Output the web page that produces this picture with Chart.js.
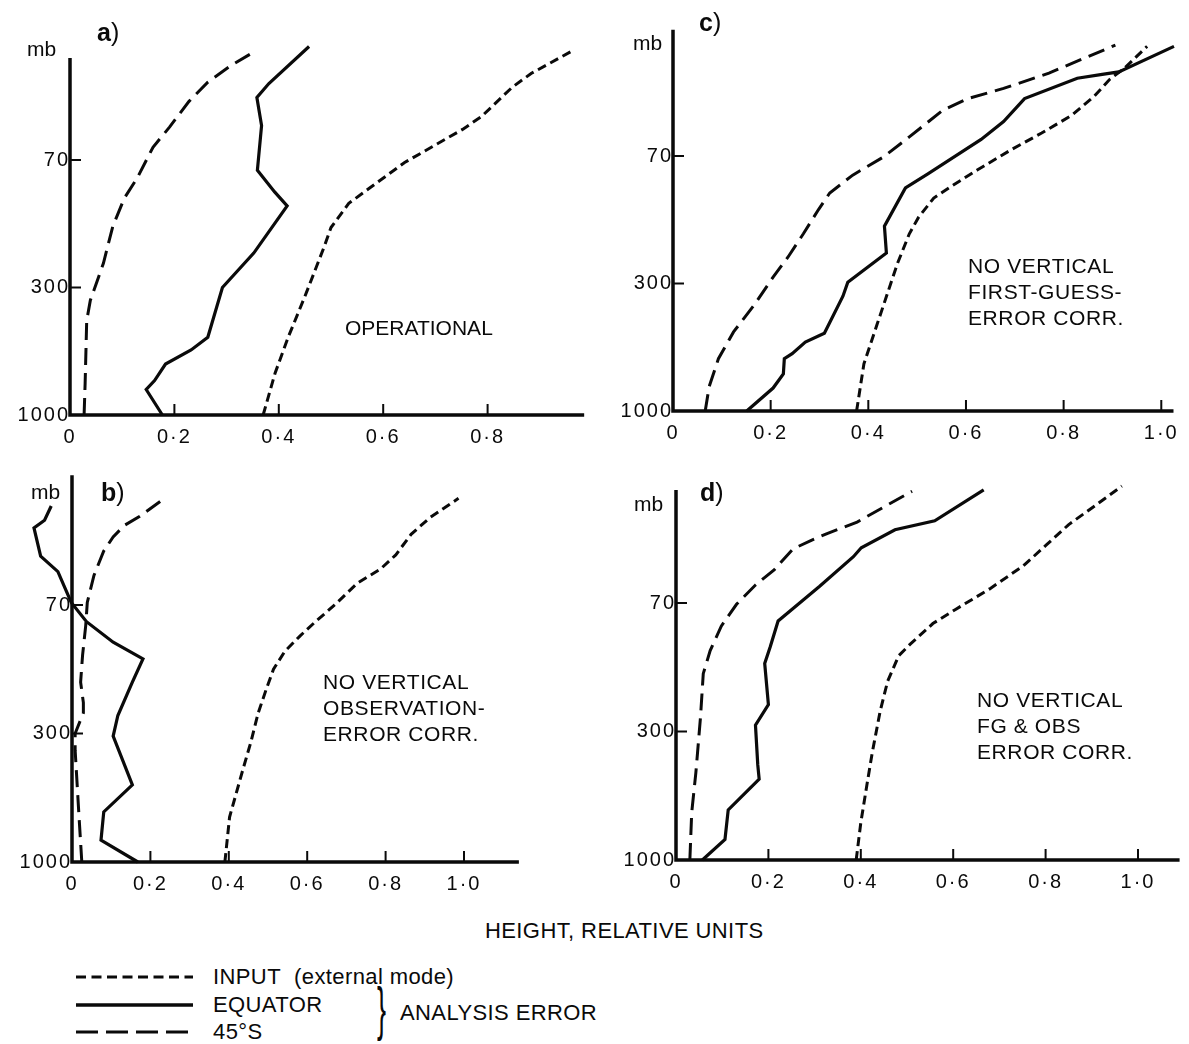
<!DOCTYPE html>
<html lang="en">
<head>
<meta charset="UTF-8">
<title>Analysis error profiles</title>
<script src="https://cdn.jsdelivr.net/npm/chart.js"></script>
<style>
  body { margin: 0; background: #fff; }
  #page { position: relative; width: 1189px; height: 1044px; background: #fff;
          font-family: "Liberation Sans", Arial, sans-serif; color: #0a0a0a; overflow: hidden; }
  canvas { position: absolute; }
  .t { position: absolute; white-space: nowrap; line-height: 1; font-size: 21px; }
  .note { letter-spacing: 0.6px; }
  .leg { font-size: 22px; letter-spacing: 0.4px; }
  .tag { font-size: 25px; }
  .tag b { font-weight: bold; }
</style>
</head>
<body>
<div id="page">
  <canvas id="pa" width="595" height="450" style="left:0;top:0"></canvas>
  <canvas id="pc" width="589" height="450" style="left:600px;top:0"></canvas>
  <canvas id="pb" width="595" height="455" style="left:0;top:440px"></canvas>
  <canvas id="pd" width="589" height="455" style="left:600px;top:440px"></canvas>

  <div class="t" style="left:27px;top:38px">mb</div>
  <div class="t tag" style="left:97px;top:20px"><b>a</b>)</div>
  <div class="t" style="left:31px;top:481px">mb</div>
  <div class="t tag" style="left:101px;top:480px"><b>b</b>)</div>
  <div class="t" style="left:633px;top:32px">mb</div>
  <div class="t tag" style="left:699px;top:10px"><b>c</b>)</div>
  <div class="t" style="left:634px;top:493px">mb</div>
  <div class="t tag" style="left:700px;top:480px"><b>d</b>)</div>

  <div class="t" style="left:345px;top:317px">OPERATIONAL</div>

  <div class="t note" style="left:323px;top:671px">NO VERTICAL</div>
  <div class="t note" style="left:323px;top:697px">OBSERVATION-</div>
  <div class="t note" style="left:323px;top:723px">ERROR CORR.</div>

  <div class="t note" style="left:968px;top:255px">NO VERTICAL</div>
  <div class="t note" style="left:968px;top:281px">FIRST-GUESS-</div>
  <div class="t note" style="left:968px;top:307px">ERROR CORR.</div>

  <div class="t note" style="left:977px;top:689px">NO VERTICAL</div>
  <div class="t note" style="left:977px;top:715px">FG &amp; OBS</div>
  <div class="t note" style="left:977px;top:741px">ERROR CORR.</div>

  <div class="t leg" style="left:485px;top:920px">HEIGHT, RELATIVE UNITS</div>

  <svg style="position:absolute;left:70px;top:960px" width="130" height="84">
    <line x1="6" y1="17" x2="123" y2="17" stroke="#0a0a0a" stroke-width="3" stroke-dasharray="10 5.5"/>
    <line x1="6" y1="45" x2="123" y2="45" stroke="#0a0a0a" stroke-width="3.5"/>
    <line x1="6" y1="72" x2="123" y2="72" stroke="#0a0a0a" stroke-width="3" stroke-dasharray="22 8"/>
  </svg>
  <div class="t leg" style="left:213px;top:966px">INPUT&nbsp; (external mode)</div>
  <div class="t leg" style="left:213px;top:994px">EQUATOR</div>
  <div class="t leg" style="left:213px;top:1021px">45°S</div>
  <div class="t" style="left:377px;top:979px;font-size:60px;transform:scaleX(0.45);transform-origin:left top">}</div>
  <div class="t leg" style="left:400px;top:1002px">ANALYSIS ERROR</div>
</div>

<script>
// vertical coordinate: 0 = 1000 mb, 1 = 300 mb, 2 = 70 mb (equally spaced on the figure)
const levelTicks = [0, 1, 2];
const levelLabels = ['1000', '300', '70'];
const xTicksA = [0, 0.2, 0.4, 0.6, 0.8];
const xTicksB = [0, 0.2, 0.4, 0.6, 0.8, 1.0];

// [x, level] pairs
// a) operational
const inputA = [[0.37,0],[0.393,0.33],[0.418,0.61],[0.45,0.93],[0.487,1.32],[0.50,1.47],[0.534,1.66],[0.574,1.78],[0.641,1.98],[0.752,2.24],[0.788,2.34],[0.847,2.57],[0.884,2.68],[0.964,2.86]];
const equatorA = [[0.177,0],[0.146,0.20],[0.162,0.27],[0.183,0.40],[0.232,0.51],[0.264,0.61],[0.292,1.0],[0.352,1.27],[0.416,1.64],[0.392,1.75],[0.359,1.92],[0.367,2.27],[0.358,2.49],[0.381,2.60],[0.458,2.89]];
const southA = [[0.027,0],[0.029,0.25],[0.032,0.74],[0.039,0.90],[0.064,1.19],[0.082,1.48],[0.104,1.70],[0.129,1.86],[0.159,2.10],[0.191,2.26],[0.228,2.46],[0.264,2.61],[0.308,2.74],[0.345,2.83]];

// b) no vertical observation-error correlation
const inputB = [[0.39,0],[0.402,0.35],[0.436,0.72],[0.456,0.93],[0.475,1.16],[0.495,1.34],[0.514,1.50],[0.543,1.64],[0.582,1.76],[0.621,1.87],[0.67,2.0],[0.728,2.17],[0.787,2.28],[0.826,2.39],[0.865,2.55],[0.913,2.68],[0.986,2.83]];
const equatorB = [[0.168,0],[0.074,0.17],[0.081,0.39],[0.154,0.60],[0.105,0.98],[0.117,1.14],[0.154,1.40],[0.181,1.58],[0.105,1.71],[0.037,1.87],[-0.002,2.02],[-0.036,2.26],[-0.08,2.38],[-0.097,2.60],[-0.07,2.66],[-0.053,2.77]];
const southB = [[0.025,0],[0.018,0.35],[0.008,0.87],[0.008,1.0],[0.029,1.16],[0.029,1.24],[0.022,1.40],[0.027,1.61],[0.035,1.84],[0.039,2.02],[0.056,2.23],[0.081,2.42],[0.105,2.53],[0.134,2.62],[0.173,2.69],[0.227,2.81]];

// c) no vertical first-guess-error correlation
const inputC = [[0.376,0],[0.391,0.37],[0.418,0.68],[0.46,1.16],[0.484,1.39],[0.503,1.52],[0.534,1.67],[0.569,1.76],[0.623,1.89],[0.693,2.05],[0.755,2.18],[0.817,2.32],[0.863,2.47],[0.894,2.60],[0.925,2.69],[0.971,2.86]];
const equatorC = [[0.151,0],[0.205,0.18],[0.226,0.29],[0.228,0.41],[0.244,0.45],[0.271,0.54],[0.31,0.61],[0.348,0.90],[0.358,1.01],[0.437,1.24],[0.433,1.45],[0.476,1.75],[0.522,1.86],[0.631,2.13],[0.677,2.27],[0.72,2.45],[0.828,2.61],[0.879,2.64],[0.913,2.66],[1.026,2.86]];
const southC = [[0.066,0],[0.074,0.19],[0.093,0.41],[0.124,0.62],[0.166,0.83],[0.205,1.05],[0.236,1.21],[0.267,1.39],[0.298,1.58],[0.321,1.71],[0.368,1.85],[0.43,1.99],[0.484,2.15],[0.553,2.36],[0.604,2.45],[0.677,2.53],[0.77,2.65],[0.906,2.87]];

// d) no vertical FG & OBS error correlation
const inputD = [[0.39,0],[0.40,0.29],[0.413,0.58],[0.425,0.84],[0.442,1.16],[0.458,1.39],[0.482,1.59],[0.507,1.68],[0.556,1.84],[0.605,1.95],[0.679,2.11],[0.752,2.29],[0.801,2.45],[0.85,2.61],[0.908,2.76],[0.965,2.91]];
const equatorD = [[0.057,0],[0.106,0.16],[0.113,0.39],[0.18,0.63],[0.177,0.74],[0.172,1.05],[0.20,1.21],[0.192,1.53],[0.204,1.66],[0.221,1.86],[0.311,2.13],[0.384,2.36],[0.401,2.43],[0.474,2.57],[0.56,2.64],[0.666,2.88]];
const southD = [[0.03,0],[0.034,0.37],[0.043,0.68],[0.053,1.11],[0.059,1.45],[0.074,1.63],[0.098,1.82],[0.131,1.99],[0.172,2.14],[0.213,2.26],[0.253,2.42],[0.294,2.49],[0.327,2.54],[0.392,2.63],[0.511,2.87]];

const INK = '#0a0a0a';
const FONT = '"Liberation Sans", Arial, sans-serif';

// axis lines and inward tick marks, like the hand-drawn figure
const handAxes = {
    id: 'handAxes',
    beforeUpdate(chart) {
        // the printed tick labels are loosely spaced
        chart.ctx.letterSpacing = '2px';
    },
    afterDatasetsDraw(chart, args, o) {
        const {ctx} = chart;
        const x = chart.scales.x, y = chart.scales.y;
        const x0 = x.getPixelForValue(0), y0 = y.getPixelForValue(0);
        ctx.save();
        ctx.strokeStyle = INK;
        ctx.lineWidth = 3.5;
        ctx.beginPath();
        ctx.moveTo(x0, y.getPixelForValue(o.yTop));
        ctx.lineTo(x0, y0);
        ctx.lineTo(x.getPixelForValue(o.xEnd), y0);
        ctx.stroke();
        ctx.lineWidth = 2;
        ctx.beginPath();
        x.ticks.forEach(t => {
            if (t.value <= 0) return;
            const px = x.getPixelForValue(t.value);
            ctx.moveTo(px, y0);
            ctx.lineTo(px, y0 - 11);
        });
        y.ticks.forEach(t => {
            if (t.value <= 0) return;
            const py = y.getPixelForValue(t.value);
            ctx.moveTo(x0, py);
            ctx.lineTo(x0 + 11, py);
        });
        ctx.stroke();
        ctx.restore();
    }
};

function pts(arr) {
    return arr.map(p => ({x: p[0], y: p[1]}));
}

function fmtX(v) {
    return v === 0 ? '0' : v.toFixed(1).replace('.', '\u00b7');
}

// g: page geometry of the panel (pixel of x=0, px per unit, pixel of 1000 mb, px per level)
function panel(id, box, g, xTicks, input, equator, south) {
    const chartLeft = g.x0 + g.xMin * g.xUnit;
    const chartRight = g.x0 + g.xMax * g.xUnit;
    const chartTop = g.y0 - g.yMax * g.yUnit;
    const line = (data, w, dash) => ({
        data: pts(data), showLine: true, pointRadius: 0, borderColor: INK,
        borderWidth: w, borderDash: dash, clip: false, tension: 0
    });
    new Chart(document.getElementById(id), {
        type: 'scatter',
        data: {
            datasets: [
                line(input, 3, [9, 5]),
                line(equator, 3.2, []),
                line(south, 3, [17, 8])
            ]
        },
        options: {
            responsive: false,
            animation: false,
            layout: {
                padding: {
                    left: chartLeft - box.left,
                    right: box.left + box.width - chartRight,
                    top: chartTop - box.top,
                    bottom: 0
                }
            },
            plugins: {
                legend: {display: false},
                tooltip: {enabled: false},
                handAxes: {xEnd: g.xMax, yTop: g.yTop}
            },
            scales: {
                x: {
                    type: 'linear', position: 'bottom', min: g.xMin, max: g.xMax,
                    grid: {display: false, drawTicks: false},
                    border: {display: false},
                    afterBuildTicks: s => { s.ticks = xTicks.map(v => ({value: v})); },
                    afterFit: s => { s.height = box.top + box.height - g.y0; },
                    ticks: {
                        autoSkip: false, maxRotation: 0, padding: 10, color: INK,
                        font: {family: FONT, size: 20},
                        callback: v => fmtX(v)
                    }
                },
                y: {
                    type: 'linear', position: {x: 0}, min: 0, max: g.yMax,
                    grid: {display: false, drawTicks: false},
                    border: {display: false},
                    afterBuildTicks: s => { s.ticks = levelTicks.map(v => ({value: v})); },
                    ticks: {
                        autoSkip: false, padding: 5, color: INK,
                        font: {family: FONT, size: 20},
                        callback: v => levelLabels[levelTicks.indexOf(v)]
                    }
                }
            }
        },
        plugins: [handAxes]
    });
}

panel('pa', {left: 0, top: 0, width: 595, height: 450},
      {x0: 70, xUnit: 522, xMin: 0, xMax: 0.985, y0: 415, yUnit: 127.5, yMax: 3.0, yTop: 2.8},
      xTicksA, inputA, equatorA, southA);
panel('pc', {left: 600, top: 0, width: 589, height: 450},
      {x0: 673, xUnit: 493, xMin: 0, xMax: 1.025, y0: 411, yUnit: 127.5, yMax: 3.05, yTop: 2.99},
      xTicksB, inputC, equatorC, southC);
panel('pb', {left: 0, top: 440, width: 595, height: 455},
      {x0: 72, xUnit: 392, xMin: -0.12, xMax: 1.14, y0: 862, yUnit: 128.5, yMax: 3.05, yTop: 3.01},
      xTicksB, inputB, equatorB, southB);
panel('pd', {left: 600, top: 440, width: 589, height: 455},
      {x0: 676, xUnit: 462, xMin: 0, xMax: 1.09, y0: 860, yUnit: 128.5, yMax: 3.0, yTop: 2.88},
      xTicksB, inputD, equatorD, southD);
</script>
</body>
</html>
